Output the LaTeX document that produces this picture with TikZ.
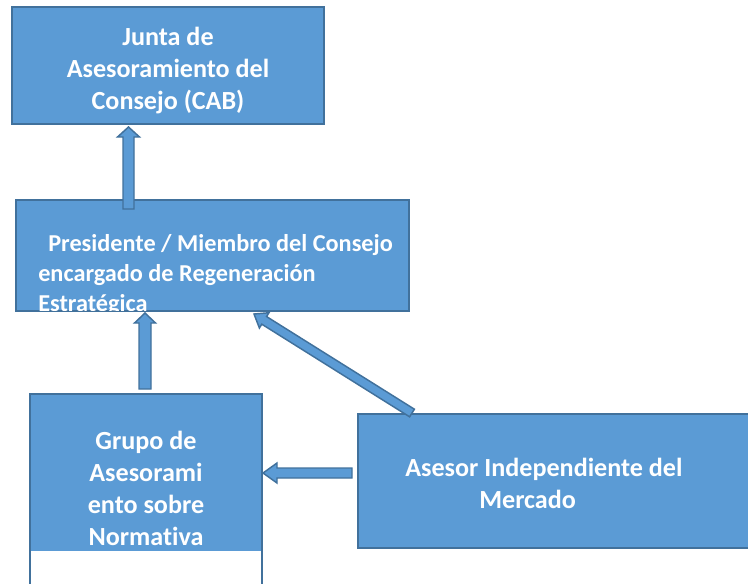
\documentclass[tikz,border=0pt]{standalone}
\usepackage{fontspec}
\setmainfont{Carlito}[Ligatures=NoCommon]
\usetikzlibrary{calc,positioning}
\definecolor{cajaazul}{HTML}{5B9BD5}
\definecolor{bordeazul}{HTML}{41719C}
\tikzset{
  caja/.style={draw=bordeazul, fill=cajaazul, line width=1.5pt, inner sep=0pt,
    outer sep=0pt, anchor=north west},
  texto/.style={text=white, font=\bfseries\fontsize{19.6}{24}\selectfont, inner sep=0pt},
  flecha/.style={draw=bordeazul, fill=cajaazul, line width=1.1pt, line join=miter}
}
% flecha gruesa: #1 cola, #2 punta, #3 medio tallo, #4 media punta, #5 largo punta
\newcommand{\flechabloque}[5]{%
  \coordinate (fb-base) at ($(#2)!#5!(#1)$);
  \draw[flecha] ($(#1)!#3!90:(#2)$) -- ($(fb-base)!#3!90:(#2)$)
    -- ($(fb-base)!#4!90:(#2)$) -- (#2) -- ($(fb-base)!#4!-90:(#2)$)
    -- ($(fb-base)!#3!-90:(#2)$) -- ($(#1)!#3!-90:(#2)$) -- cycle;
}
\begin{document}
\begin{tikzpicture}[line join=miter,x=0.75pt,y=-0.75pt]
		\useasboundingbox (0,0) rectangle (748,583);
		\clip (0,0) rectangle (748,583);
		\node[caja, minimum width=234pt, minimum height=87.75pt] (cab) at (12,7) {};%caja CAB
		\node[texto, align=center] (cabtxt) at ($(cab.center)+(0,5)$)
		  {Junta de\\Asesoramiento del\\Consejo (CAB)};
		\node[caja, minimum width=294.75pt, minimum height=83.25pt] (pres) at (16,200) {};%caja presidente
		\begin{scope}
		  \clip ($(pres.north west)+(1,1)$) rectangle ($(pres.south east)+(-1,-1)$);
		  \node[texto, font=\bfseries\fontsize{18.2}{22.5}\selectfont, align=left, anchor=west]
		    (prestxt) at (38,275)
		    {\hspace*{7.5pt}Presidente / Miembro del Consejo\\encargado de Regeneración\\Estratégica};
		\end{scope}
		\node[caja, fill=none, minimum width=174pt, minimum height=169.5pt,
		  path picture={\fill[cajaazul] (path picture bounding box.north west)
		    rectangle ($(path picture bounding box.north east)+(0,157)$);}]
		  (grupo) at (30,394) {};%caja grupo
		\node[texto, align=center] (grupotxt) at (146,488)
		  {Grupo de\\Asesorami\\ento sobre\\Normativa};
		\node[caja, minimum width=331.5pt, minimum height=100.5pt] (asesor) at (358,414) {};%caja asesor
		\node[texto, align=left, anchor=west] (asesortxt) at (405,483)
		  {Asesor Independiente del\\\hspace*{55.5pt}Mercado};
		\coordinate (f1a) at ($(pres.north)+(-84,9)$);
		\coordinate (f1b) at ($(cab.south)+(-39.5,3)$);
		\coordinate (f2a) at ($(grupo.north)+(-1,-5)$);
		\coordinate (f2b) at ($(pres.south)+(-67.5,2)$);
		\coordinate (f3a) at ($(asesor.north west)+(-6,59)$);
		\coordinate (f3b) at ($(grupo.north east)+(1,79)$);
		\coordinate (f4a) at ($(asesor.north west)+(54,-1)$);
		\coordinate (f4b) at ($(pres.south east)+(-155,3)$);
		\flechabloque{f1a}{f1b}{4.125pt}{8.25pt}{7.5pt}%pres a CAB
		\flechabloque{f2a}{f2b}{4.5pt}{7.875pt}{7.5pt}%grupo a pres
		\flechabloque{f3a}{f3b}{3.75pt}{7.5pt}{10.5pt}%asesor a grupo
		\flechabloque{f4a}{f4b}{3.375pt}{6.75pt}{9pt}%asesor a pres
\end{tikzpicture}
\end{document}
